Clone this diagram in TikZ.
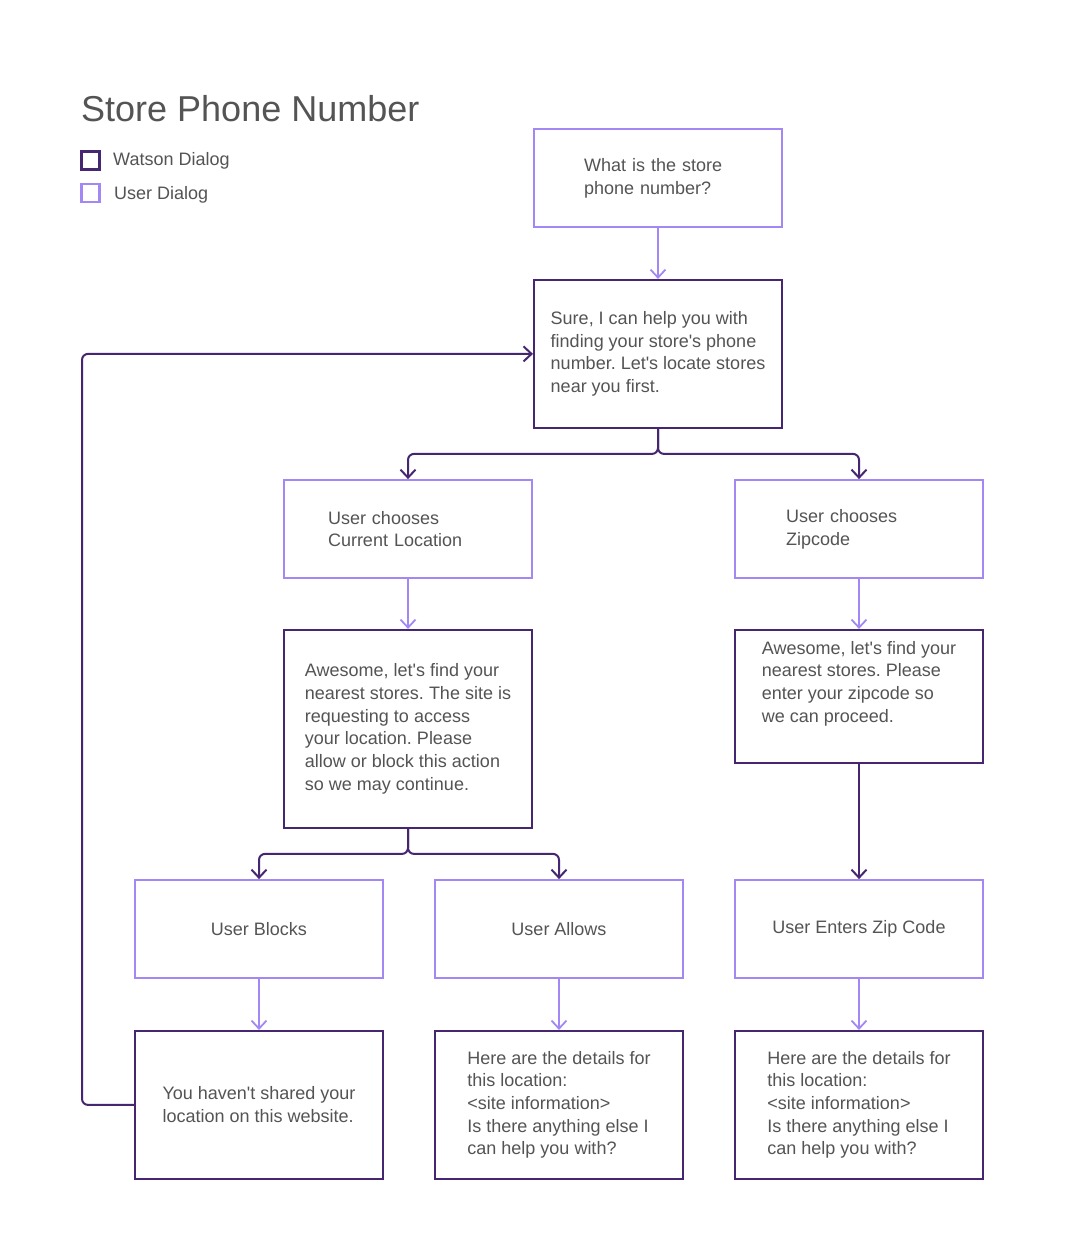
\documentclass[tikz,border=0pt]{standalone}
\usepackage{fontspec}
\setmainfont{Liberation Sans}
\usetikzlibrary{arrows.meta, positioning}
\definecolor{watsoncol}{RGB}{70,38,112}
\definecolor{usercol}{RGB}{163,136,245}
\definecolor{textcol}{RGB}{84,84,84}
\newcommand{\apos}{\textquotesingle}
\frenchspacing

\begin{document}
\begin{tikzpicture}[
    x=1pt, y=-1pt,
    % Define box styles
    box/.style={
        rectangle,
        minimum width=248pt,
        align=left,
        text=textcol,
        font=\fontsize{18}{22.7}\selectfont
    },
    userbox/.style={box, line width=1.8pt, draw=usercol, minimum height=98pt},
    watsonbox/.style={box, line width=2pt, draw=watsoncol},
    userline/.style={line width=1.8pt, usercol, -{Straight Barb[length=8pt,width=15pt]}},
    watsonline/.style={line width=2pt, watsoncol, rounded corners=6pt, -{Straight Barb[length=8pt,width=15pt]}},
    legendsq/.style={rectangle, line width=2.2pt, minimum size=18pt, inner sep=0pt},
    legendtxt/.style={anchor=base west, inner sep=0pt, text=textcol, font=\fontsize{18}{21}\selectfont}
]
    \useasboundingbox[fill=white] (0,0) rectangle (1083,1257);

    % --- title and legend ---
    \node[anchor=base west, inner sep=0pt, text=textcol, font=\fontsize{36}{40}\selectfont] (title) at (81,122) {Store Phone Number};
    \node[legendsq, draw=watsoncol] (watsonsq) at (90.5,160.5) {};
    \node[legendsq, draw=usercol] (usersq) at (90.5,193) {};
    \node[legendtxt] (watsonlbl) at (113,166) {Watson Dialog};
    \node[legendtxt] (userlbl) at (114,200) {User Dialog};

    % --- top of the flow ---
    \node[userbox, text width=148pt, inner xsep=50pt] (question) at (658,178) {What is the store\\phone number?};
    \node[watsonbox, minimum height=148pt, below=51pt of question] (sure) {Sure, I can help you with\\finding your store\apos s phone\\number. Let\apos s locate stores\\near you first.};

    % --- two choices ---
    \node[userbox, text width=160pt, inner xsep=44pt] (curloc) at (408,529) {User chooses\\Current Location};
    \node[userbox, text width=146pt, inner xsep=51pt] (zipsel) at (859,529) {User chooses\\Zipcode};
    \node[watsonbox, minimum height=198pt, below=50pt of curloc] (awloc) {Awesome, let\apos s find your\\nearest stores. The site is\\requesting to access\\your location. Please\\allow or block this action\\so we may continue.};
    \node[watsonbox, minimum height=133pt, below=50pt of zipsel] (awzip) {Awesome, let\apos s find your\\nearest stores. Please\\enter your zipcode so\\we can proceed.\\\strut};

    % --- user answers ---
    \node[userbox, align=center] (blocks) at (259,929) {User Blocks};
    \node[userbox, align=center] (allows) at (559,929) {User Allows};
    \node[userbox, align=center] (enterzip) at (859,929) {User Enters Zip Code};

    % --- replies ---
    \node[watsonbox, minimum height=148pt, below=51pt of blocks] (shared) {You haven\apos t shared your\\location on this website.};
    \node[watsonbox, minimum height=148pt, below=51pt of allows] (detloc) {Here are the details for\\this location:\\<site information>\\Is there anything else I\\can help you with?};
    \node[watsonbox, minimum height=148pt, below=51pt of enterzip] (detzip) {Here are the details for\\this location:\\<site information>\\Is there anything else I\\can help you with?};

    % --- connectors ---
    \draw[userline] (question) -- (sure);
    \draw[watsonline] (sure.south) -- ++(0,25) -| (curloc);
    \draw[watsonline] (sure.south) -- ++(0,25) -| (zipsel);
    \draw[userline] (curloc) -- (awloc);
    \draw[userline] (zipsel) -- (awzip);
    \draw[watsonline] (awloc.south) -- ++(0,25) -| (blocks);
    \draw[watsonline] (awloc.south) -- ++(0,25) -| (allows);
    \draw[watsonline] (awzip) -- (enterzip);
    \draw[userline] (blocks) -- (shared);
    \draw[userline] (allows) -- (detloc);
    \draw[userline] (enterzip) -- (detzip);
    \draw[watsonline] (shared.west) -- ++(-52,0) |- (sure.west);
\end{tikzpicture}
\end{document}
